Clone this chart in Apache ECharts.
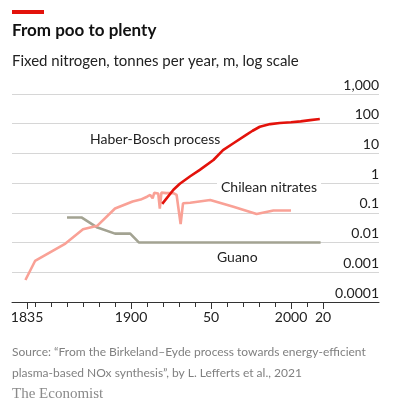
<!DOCTYPE html>
<html>
<head>
<meta charset="utf-8">
<script src="https://cdn.jsdelivr.net/npm/echarts@6/dist/echarts.min.js"></script>
<style>
html,body{margin:0;padding:0;background:#fff;}
#chart{width:394px;height:411px;}
</style>
</head>
<body>
<div id="chart"></div>
<script>
// ---- Data ----
const chileanYears  = [1834, 1840, 1859, 1870, 1879, 1890, 1901, 1906, 1910, 1912, 1913.5, 1914.5, 1917, 1918, 1919, 1922, 1926.5, 1928.5, 1929.5, 1931, 1932.5, 1937, 1949.5, 1964, 1978.5, 1989, 2000];
const chileanValues = [0.00055, 0.0024, 0.0093, 0.028, 0.037, 0.14, 0.24, 0.28, 0.35, 0.40, 0.31, 0.47, 0.45, 0.14, 0.48, 0.46, 0.46, 0.40, 0.16, 0.042, 0.21, 0.22, 0.27, 0.16, 0.092, 0.12, 0.12];

const haberYears  = [1919.5, 1926.5, 1930.5, 1937, 1943, 1951.5, 1957.5, 1964, 1972, 1976, 1980.5, 1987, 1993, 2000, 2006, 2012, 2018];
const haberValues = [0.2, 0.6, 0.95, 1.7, 2.8, 6, 13, 22, 42, 58, 79, 97, 106, 112, 120, 132, 145];

const guanoYears  = [1860, 1869, 1879, 1890, 1899.5, 1905, 2018.5];
const guanoValues = [0.07, 0.07, 0.032, 0.02, 0.02, 0.01, 0.01];

const xTickValues = [1835, 1900, 1950, 2000, 2020];
const xTickLabels = ['1835', '1900', '50', '2000', '20'];
const xMinorTicks = [1835, 1840, 1850, 1860, 1870, 1880, 1890, 1900, 1910, 1920, 1930, 1940, 1950, 1960, 1970, 1980, 1990, 2000, 2010, 2020];
const yTickLabels = ['0.0001', '0.001', '0.01', '0.1', '1', '10', '100', '1,000'];

const pair = (xs, ys) => xs.map((x, i) => [x, ys[i]]);

const FONT = 'Lato, "Noto Sans", sans-serif';
const chart = echarts.init(document.getElementById('chart'), null, {renderer: 'canvas'});

const xCommon = {
  type: 'value', min: 1825.6, max: 2055,
  splitLine: {show: false}
};

chart.setOption({
  animation: false,
  backgroundColor: '#fff',
  grid: {left: 12, right: 15, top: 94, bottom: 109, containLabel: false},
  xAxis: [
    Object.assign({}, xCommon, {
      position: 'bottom',
      axisLine: {show: true, lineStyle: {color: '#333', width: 1}},
      axisTick: {show: true, customValues: xTickValues, length: 7, lineStyle: {color: '#333', width: 1}},
      axisLabel: {
        show: true, customValues: xTickValues, margin: 8,
        color: '#222', fontSize: 14, fontFamily: FONT,
        formatter: v => xTickLabels[xTickValues.indexOf(Math.round(v))] || ''
      }
    }),
    Object.assign({}, xCommon, {
      position: 'bottom',
      axisLine: {show: false},
      axisTick: {show: true, customValues: xMinorTicks, length: 5, lineStyle: {color: '#333', width: 1}},
      axisLabel: {show: false}
    })
  ],
  yAxis: {
    type: 'log', logBase: 10, min: 0.0001, max: 1000, interval: 1, splitNumber: 7,
    position: 'right',
    axisLine: {show: false},
    axisTick: {show: false},
    splitLine: {show: true, lineStyle: {color: '#d6d6d6', width: 1}},
    axisLabel: {
      inside: true, margin: 0, align: 'right', verticalAlign: 'bottom',
      padding: [0, 0, 2, 0],
      color: '#222', fontSize: 14, fontFamily: FONT,
      formatter: v => yTickLabels[Math.round(Math.log10(v)) + 4] || ''
    }
  },
  series: [
    {
      name: 'Guano', type: 'line', xAxisIndex: 0, data: pair(guanoYears, guanoValues),
      showSymbol: false, symbol: 'none', lineStyle: {color: '#a3a392', width: 2.6}, z: 2
    },
    {
      name: 'Chilean nitrates', type: 'line', xAxisIndex: 0, data: pair(chileanYears, chileanValues),
      showSymbol: false, symbol: 'none', lineStyle: {color: '#f9a196', width: 2.6}, z: 3
    },
    {
      name: 'Haber-Bosch process', type: 'line', xAxisIndex: 0, data: pair(haberYears, haberValues),
      showSymbol: false, symbol: 'none', lineStyle: {color: '#e3120b', width: 2.6}, z: 4
    }
  ],
  graphic: [
    {type: 'rect', left: 12, top: 10, shape: {width: 32, height: 4}, style: {fill: '#e3120b'}},
    {type: 'text', x: 12, y: 31, style: {text: 'From poo to plenty', font: 'bold 17px ' + FONT, fill: '#111', textVerticalAlign: 'middle'}},
    {type: 'text', x: 12, y: 61, style: {text: 'Fixed nitrogen, tonnes per year, m, log scale', font: '15px ' + FONT, fill: '#222', textVerticalAlign: 'middle'}},
    {type: 'text', x: 90, y: 139, z: 10, style: {text: 'Haber-Bosch process', font: '14px ' + FONT, fill: '#222', textVerticalAlign: 'middle'}},
    {type: 'text', x: 217, y: 187, z: 10, style: {text: 'Chilean nitrates', font: '14px ' + FONT, fill: '#222', textVerticalAlign: 'middle', backgroundColor: '#fff', padding: [1, 4, 1, 4]}},
    {type: 'text', x: 217, y: 257, z: 10, style: {text: 'Guano', font: '14px ' + FONT, fill: '#222', textVerticalAlign: 'middle'}},
    {type: 'text', x: 12, y: 352, style: {text: 'Source: \u201cFrom the Birkeland\u2013Eyde process towards energy-efficient', font: '12px ' + FONT, fill: '#808080', textVerticalAlign: 'middle'}},
    {type: 'text', x: 12, y: 373, style: {text: 'plasma-based NOx synthesis\u201d, by L. Lefferts et al., 2021', font: '12px ' + FONT, fill: '#808080', textVerticalAlign: 'middle'}},
    {type: 'text', x: 12, y: 394, style: {text: 'The Economist', font: '15px "Liberation Serif", serif', fill: '#8a8a8a', textVerticalAlign: 'middle'}}
  ]
});
</script>
</body>
</html>
